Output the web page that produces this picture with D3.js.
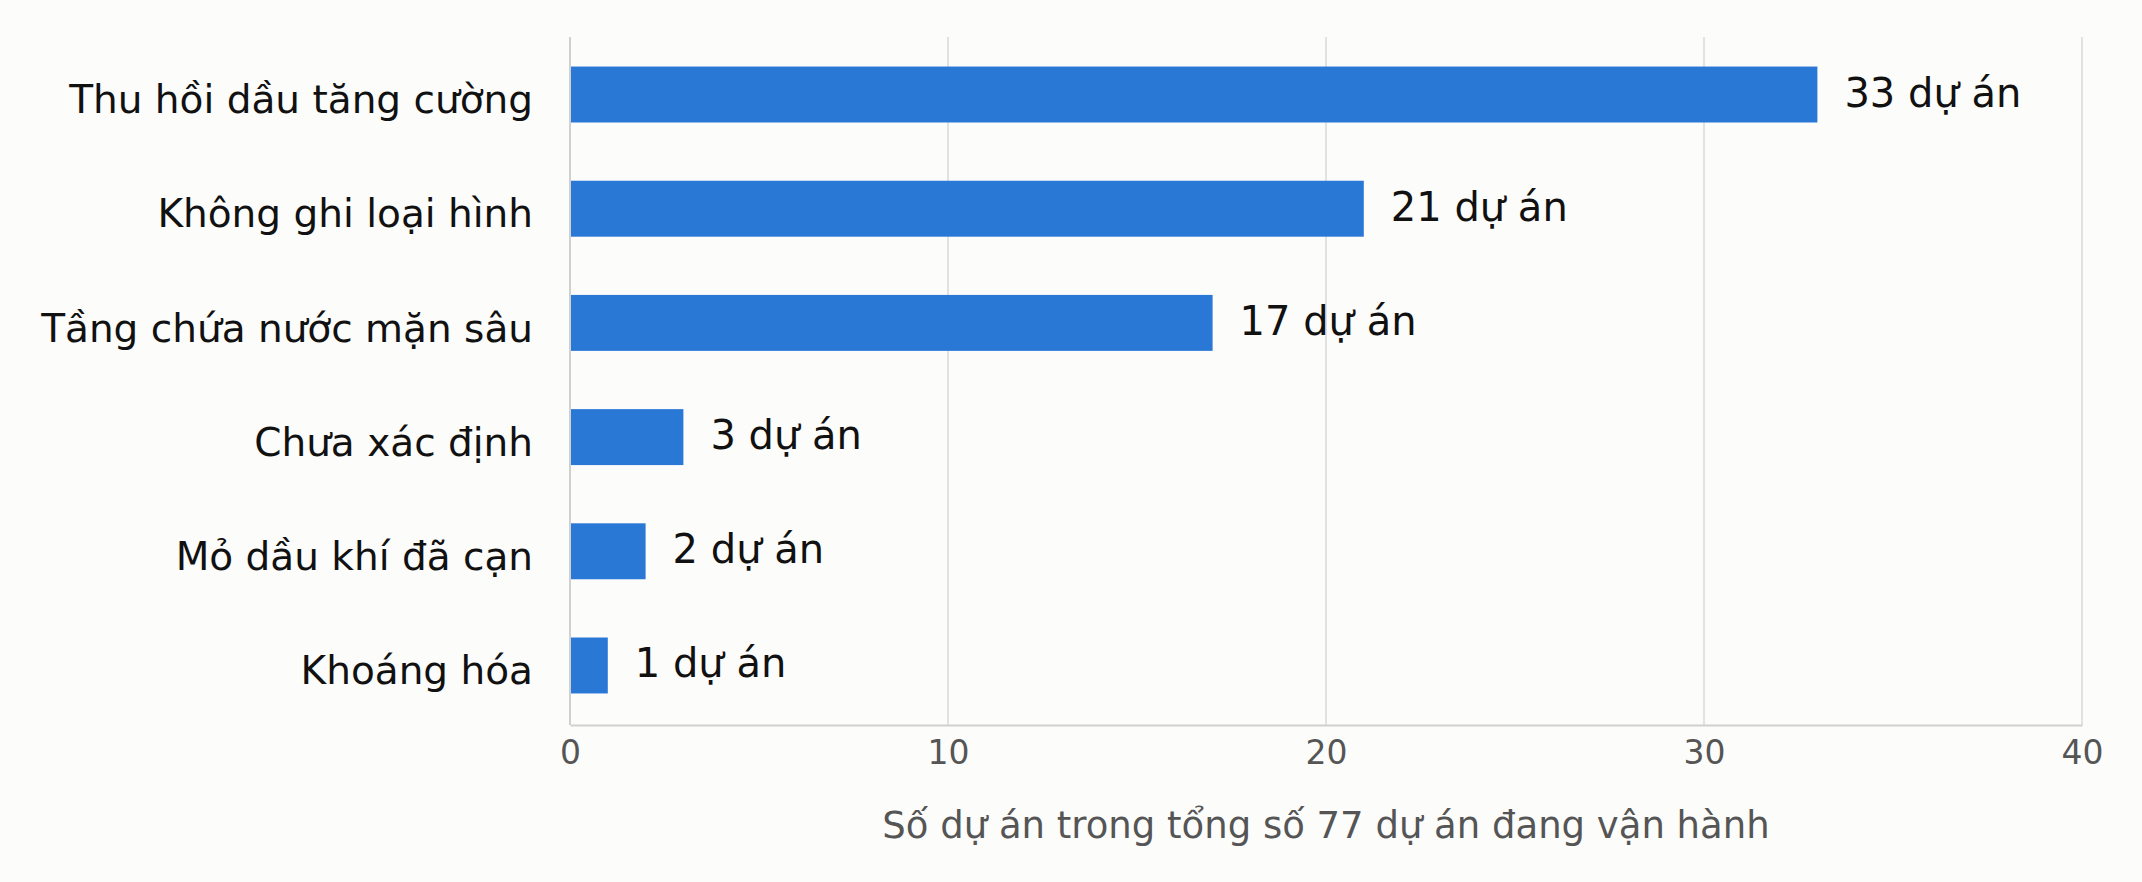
<!DOCTYPE html>
<html><head><meta charset="utf-8">
<script src="https://cdn.jsdelivr.net/npm/d3@7"></script>
<style>body{margin:0;background:#fcfcfb;font-family:"DejaVu Sans",sans-serif;}</style>
</head><body><div id="chart"></div>
<script>
const categories = ["Thu hồi dầu tăng cường","Không ghi loại hình","Tầng chứa nước mặn sâu","Chưa xác định","Mỏ dầu khí đã cạn","Khoáng hóa"];
const values = [33,21,17,3,2,1];
const ticks = [0,10,20,30,40];

const W = 2142, H = 882;
const svg = d3.select("#chart").append("svg").attr("width", W).attr("height", H);
svg.append("rect").attr("width", W).attr("height", H).attr("fill", "#fcfcfb");

const x = d3.scaleLinear().domain([0, 40]).range([570, 2082]);
const y = d3.scaleBand().domain(categories).range([38, 722]).paddingInner(0.51).paddingOuter(0.25);

// grid
svg.append("g").selectAll("line").data(ticks.slice(1)).join("line")
    .attr("x1", d => x(d)).attr("x2", d => x(d))
    .attr("y1", 37).attr("y2", 725)
    .attr("stroke", "#e2e2e2").attr("stroke-width", 2);

svg.append("g").selectAll("rect").data(values).join("rect")
    .attr("x", x(0)).attr("y", (d, i) => y(categories[i]))
    .attr("width", d => x(d) - x(0)).attr("height", y.bandwidth())
    .attr("fill", "#2a78d6");

svg.append("g").selectAll("text").data(values).join("text")
    .attr("x", d => x(d) + 27).attr("y", (d, i) => y(categories[i]) + y.bandwidth() / 2 - 2)
    .attr("dy", "0.35em").attr("font-size", 40).attr("fill", "#111")
    .text(d => d + " dự án");

svg.append("g").selectAll("text").data(categories).join("text")
    .attr("x", 533).attr("y", d => y(d) + y.bandwidth() / 2 + 5)
    .attr("dy", "0.35em").attr("text-anchor", "end").attr("font-size", 39).attr("fill", "#111")
    .text(d => d);

// axes
svg.append("line").attr("x1", 570).attr("x2", 570).attr("y1", 37).attr("y2", 725)
    .attr("stroke", "#d0d0d0").attr("stroke-width", 2);
const ax = svg.append("g").attr("transform", "translate(0,725)")
    .call(d3.axisBottom(x).tickValues(ticks).tickSize(0).tickPadding(16));
ax.select(".domain").attr("stroke", "#d0d0d0").attr("stroke-width", 2);
ax.selectAll("text").attr("font-size", 33).attr("fill", "#555").attr("font-family", "DejaVu Sans");

svg.append("text").attr("x", 1326).attr("y", 838).attr("text-anchor", "middle")
    .attr("font-size", 37).attr("fill", "#555")
    .text("Số dự án trong tổng số 77 dự án đang vận hành");
</script></body></html>
